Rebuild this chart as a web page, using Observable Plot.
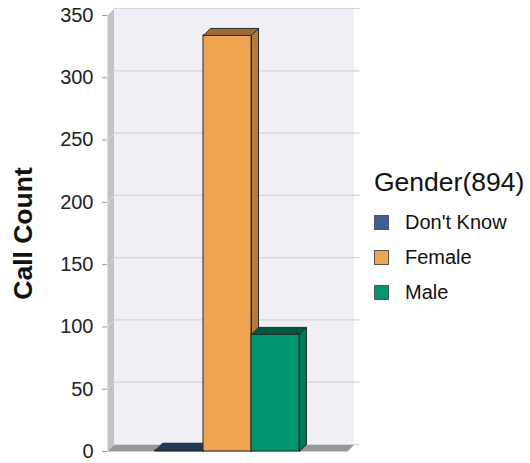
<!DOCTYPE html>
<html><head><meta charset="utf-8">
<script src="https://cdn.jsdelivr.net/npm/d3@7"></script>
<script src="https://cdn.jsdelivr.net/npm/@observablehq/plot@0.6"></script>
<style>
body{margin:0;background:#fff;font-family:"Liberation Sans",Arial,sans-serif;}
#wrap{position:relative;width:530px;height:463px;}
#legend{position:absolute;left:374px;top:167px;color:#111;}
#legend .title{font-size:26.5px;line-height:30px;margin-bottom:8px;}
#legend .item{display:flex;align-items:center;height:35px;font-size:20px;}
#legend .sw{width:13px;height:13px;border:1px solid #555;margin-right:16px;}
</style></head>
<body><div id="wrap"><div id="chart"></div><div id="legend"></div></div>
<script>
const categories = ["Don't Know", "Female", "Male"];
const values = [1, 334, 94];
const frontColors = ["#3a6096", "#f0a452", "#009670"];
const sideColors = ["#2b4a75", "#b57b3d", "#007a5a"];
const topColors = ["#1f3a5c", "#9c6a34", "#005a42"];
const yTicks = [0, 50, 100, 150, 200, 250, 300, 350];
const legendTitle = "Gender(894)";
const yLabel = "Call Count";

// depth of the pseudo-3D extrusion, in data units
const DX = 7 / 48, DY = 7 / (436 / 350);
const X0 = -1, X1 = categories.length + 1, YMAX = 350;

const poly = pts => [...pts, pts[0]].map(([x, y]) => ({x, y}));

const marks = [];
// left wall
marks.push(Plot.line(poly([[X0, 0], [X0, YMAX], [X0 + DX, YMAX + DY], [X0 + DX, DY]]), {x: "x", y: "y", fill: "#c3c3c7", stroke: "none"}));
// back wall
marks.push(Plot.rect([0], {x1: X0 + DX, x2: X1 + DX, y1: DY, y2: YMAX + DY, fill: "#efeff5"}));
// floor
marks.push(Plot.line(poly([[X0, 0], [X1, 0], [X1 + DX, DY], [X0 + DX, DY]]), {x: "x", y: "y", fill: "#979797", stroke: "none"}));
// gridlines on back wall and side wall
marks.push(Plot.ruleY(yTicks, {y: d => d + DY, x1: X0 + DX, x2: X1 + DX + 0.12, stroke: "#d3d3e3", strokeWidth: 1.2}));
marks.push(Plot.link(yTicks.filter(d => d > 0), {x1: X0, y1: d => d, x2: X0 + DX, y2: d => d + DY, stroke: "#d8d8e4"}));

// bars
values.forEach((v, i) => {
  const xl = i, xr = i + 1;
  marks.push(Plot.rect([v], {x1: xl, x2: xr, y1: 0, y2: d => d, fill: frontColors[i], stroke: "#2a2a2a", strokeWidth: 1}));
  marks.push(Plot.line(poly([[xr, 0], [xr + DX, DY], [xr + DX, v + DY], [xr, v]]), {x: "x", y: "y", fill: sideColors[i], stroke: "#2a2a2a", strokeWidth: 1}));
  marks.push(Plot.line(poly([[xl, v], [xr, v], [xr + DX, v + DY], [xl + DX, v + DY]]), {x: "x", y: "y", fill: topColors[i], stroke: "#2a2a2a", strokeWidth: 1}));
});

marks.push(Plot.axisY({ticks: yTicks, tickSize: 5, tickPadding: 9, stroke: "#999", fill: "#222", fontSize: 20, label: null}));
marks.push(Plot.text([yLabel], {frameAnchor: "left", textAnchor: "middle", rotate: -90, dx: -84, fontSize: 26.5, fontWeight: "bold", fill: "#111"}));

const chart = Plot.plot({
  width: 530, height: 463,
  marginLeft: 107, marginRight: 183, marginTop: 15, marginBottom: 12,
  style: {fontFamily: "Liberation Sans, Arial, sans-serif", background: "#fff"},
  x: {type: "linear", domain: [X0, X1], axis: null},
  y: {domain: [0, YMAX], axis: null},
  marks
});
document.getElementById("chart").appendChild(chart);

const lg = document.getElementById("legend");
const t = document.createElement("div"); t.className = "title"; t.textContent = legendTitle; lg.appendChild(t);
categories.forEach((c, i) => {
  const it = document.createElement("div"); it.className = "item";
  const sw = document.createElement("div"); sw.className = "sw"; sw.style.background = frontColors[i];
  const tx = document.createElement("span"); tx.textContent = c;
  it.appendChild(sw); it.appendChild(tx); lg.appendChild(it);
});
</script></body></html>
